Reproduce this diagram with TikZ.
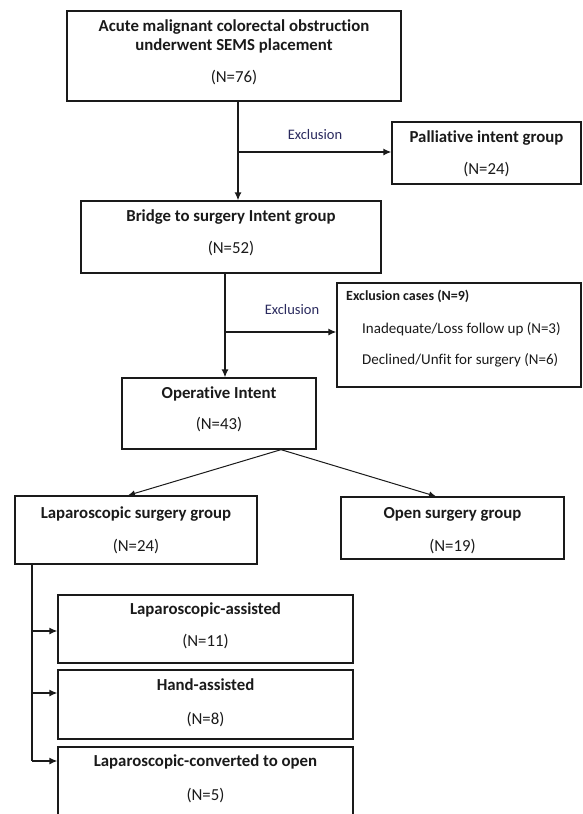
\documentclass[tikz,border=0pt]{standalone}
\usepackage{fontspec}
\setmainfont[Ligatures={NoCommon}]{Carlito}
\usetikzlibrary{arrows.meta}
\definecolor{navy}{HTML}{2A2A5E}
\definecolor{ink}{HTML}{1A1A1A}
\begin{document}
\begin{tikzpicture}[x=1pt,y=-1pt,
  box/.style={draw=ink, line width=1.3pt, inner sep=0pt, fill=white},
  ttl/.style={font=\bfseries\fontsize{16.8}{20}\selectfont, text=ink, inner sep=0pt, text height=1.05em, text depth=0.05em},
  num/.style={font=\fontsize{16.8}{20}\selectfont, text=ink, inner sep=0pt, text height=1.05em, text depth=0.05em},
  smt/.style={font=\bfseries\fontsize{14}{17}\selectfont, text=ink, inner sep=0pt, text height=1.05em, text depth=0.05em, anchor=west},
  sml/.style={font=\fontsize{15}{18}\selectfont, text=ink, inner sep=0pt, text height=1.05em, text depth=0.05em, anchor=west},
  lbl/.style={font=\fontsize{14.5}{17}\selectfont, text=navy, inner sep=0pt, text height=1.05em, text depth=0.05em},
  conn/.style={draw=ink, line width=1.3pt},
  arr/.style={draw=ink, line width=1.3pt, -{Latex[length=8pt,width=7pt]}},
  darr/.style={draw=ink, line width=1pt, -{Latex[length=7pt,width=6pt]}}
]
\clip (0,0) rectangle (582,814);
\fill[white] (0,0) rectangle (582,814);

% boxes
\node[box, minimum width=334, minimum height=90] (b1) at (234,56) {};
\node[box, minimum width=189, minimum height=62] (pal) at (486.5,153) {};
\node[box, minimum width=300, minimum height=72] (b2) at (231,237) {};
\node[box, minimum width=244, minimum height=104] (exc) at (459,335) {};
\node[box, minimum width=194, minimum height=71] (op) at (219,413.5) {};
\node[box, minimum width=242, minimum height=68] (lap) at (136,530) {};
\node[box, minimum width=223, minimum height=62] (open) at (452.5,528) {};
\node[box, minimum width=295, minimum height=68] (la) at (205.5,629) {};
\node[box, minimum width=295, minimum height=69] (ha) at (205.5,704.5) {};
\node[box, minimum width=295, minimum height=93] (cv) at (205.5,793.5) {};

% texts
\node[ttl] (b1t1) at (234,26) {Acute malignant colorectal obstruction};
\node[ttl] (b1t2) at (234,45) {underwent SEMS placement};
\node[num] (b1n) at (234,77) {(N=76)};
\node[ttl] (palt) at (486.5,137) {Palliative intent group};
\node[num] (paln) at (486.5,169) {(N=24)};
\node[ttl] (b2t) at (231,216) {Bridge to surgery Intent group};
\node[num] (b2n) at (231,248) {(N=52)};
\node[smt] (exct) at (346,295) {Exclusion cases (N=9)};
\node[sml] (exc1) at (362,328) {Inadequate/Loss follow up (N=3)};
\node[sml] (exc2) at (362,359) {Declined/Unfit for surgery (N=6)};
\node[ttl] (opt) at (219,393) {Operative Intent};
\node[num] (opn) at (219,424) {(N=43)};
\node[ttl] (lapt) at (136,513) {Laparoscopic surgery group};
\node[num] (lapn) at (136,546) {(N=24)};
\node[ttl] (opent) at (452.5,513) {Open surgery group};
\node[num] (openn) at (452.5,546) {(N=19)};
\node[ttl] (lat) at (205.5,609) {Laparoscopic-assisted};
\node[num] (lan) at (205.5,641) {(N=11)};
\node[ttl] (hat) at (205.5,685) {Hand-assisted};
\node[num] (han) at (205.5,719) {(N=8)};
\node[ttl] (cvt) at (205.5,761) {Laparoscopic-converted to open};
\node[num] (cvn) at (205.5,795) {(N=5)};

\node[lbl] (ex1) at (315,134) {Exclusion};
\node[lbl] (ex2) at (292,309) {Exclusion};

% connectors
\coordinate (c1) at (238,152);
\draw[arr] (c1 |- b1.south) -- (c1 |- b2.north);
\draw[arr] (c1) -- (c1 -| pal.west);

\coordinate (c2) at (225,332);
\draw[arr] (c2 |- b2.south) -- (c2 |- op.north);
\draw[arr] (c2) -- (c2 -| exc.west);

\coordinate (c3) at (281,449);
\coordinate (t1) at (128,496);
\coordinate (t2) at (436,497);
\draw[darr] (c3 |- op.south) -- (t1 |- lap.north);
\draw[darr] (c3 |- op.south) -- (t2 |- open.north);

\coordinate (d1) at (32,631);
\coordinate (d2) at (32,693);
\coordinate (d3) at (32,761);
\draw[conn] (d1 |- lap.south) -- (d3);
\draw[arr] (d1) -- (d1 -| la.west);
\draw[arr] (d2) -- (d2 -| ha.west);
\draw[arr] (d3) -- (d3 -| cv.west);
\end{tikzpicture}
\end{document}
